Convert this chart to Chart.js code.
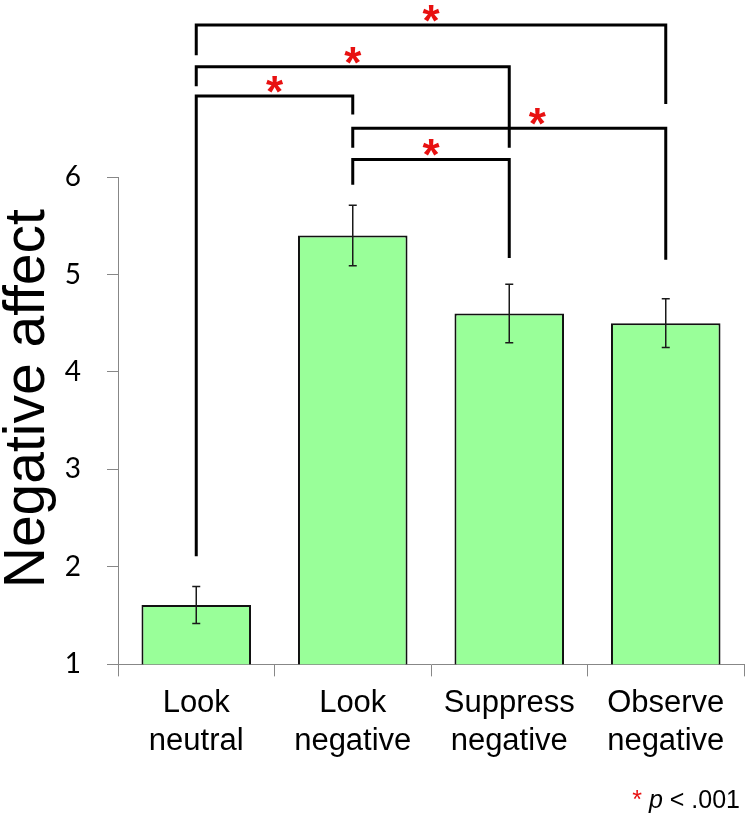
<!DOCTYPE html>
<html lang="en">

<head>
  <meta charset="UTF-8" />
  <title>Negative affect</title>
  <script src="https://cdn.jsdelivr.net/npm/chart.js"></script>
  <style>
    body {
      margin: 0;
      background: #fff;
    }

    .wrap {
      position: relative;
      width: 747px;
      height: 827px;
    }

    .note {
      position: absolute;
      right: 7px;
      top: 785px;
      font-family: 'Liberation Sans', Arial, sans-serif;
      font-size: 25px;
      color: #000;
    }

    .note .star {
      color: #e81111;
    }
  </style>
</head>

<body>
  <div class="wrap">
    <canvas id="chart" width="747" height="827"></canvas>
    <div class="note"><span class="star">*</span> <i>p</i> &lt; .001</div>
  </div>

  <script>
    // bars
    const conditions = [['Look', 'neutral'], ['Look', 'negative'], ['Suppress', 'negative'], ['Observe', 'negative']];
    const means = [1.61, 5.40, 4.60, 4.50];
    const errors = [0.19, 0.31, 0.30, 0.25];
    const yMin = 1;
    const yMax = 6;

    // significance brackets (category index from/to, values on the y scale)
    const bracketFrom = [0, 0, 0, 1, 1];
    const bracketTo = [3, 2, 1, 3, 2];
    const bracketLevel = [7.56, 7.13, 6.83, 6.50, 6.18];
    const bracketLeftEnd = [7.25, 6.93, 2.11, 6.30, 5.92];
    const bracketRightEnd = [6.75, 6.30, 6.64, 5.15, 5.17];
    const starAt = [1.5, 1.0, 0.5, 2.18, 1.5];

    const axisGray = '#878787';

    const errorBars = {
      id: 'errorBars',
      afterDatasetsDraw(chart) {
        const ctx = chart.ctx;
        const y = chart.scales.y;
        const meta = chart.getDatasetMeta(0);
        ctx.save();
        ctx.strokeStyle = '#1a1a1a';
        ctx.lineWidth = 1.5;
        meta.data.forEach((bar, i) => {
          const top = y.getPixelForValue(means[i] + errors[i]);
          const bot = y.getPixelForValue(means[i] - errors[i]);
          ctx.beginPath();
          ctx.moveTo(bar.x, top);
          ctx.lineTo(bar.x, bot);
          ctx.moveTo(bar.x - 4, top);
          ctx.lineTo(bar.x + 4, top);
          ctx.moveTo(bar.x - 4, bot);
          ctx.lineTo(bar.x + 4, bot);
          ctx.stroke();
        });
        ctx.restore();
      }
    };

    const brackets = {
      id: 'brackets',
      afterDraw(chart) {
        const ctx = chart.ctx;
        const x = chart.scales.x;
        const y = chart.scales.y;
        const p0 = x.getPixelForValue(0);
        const step = x.getPixelForValue(1) - p0;
        ctx.save();
        ctx.lineWidth = 3;
        ctx.strokeStyle = '#000';
        ctx.lineJoin = 'miter';
        ctx.font = 'bold 44px "Liberation Sans", Arial, sans-serif';
        ctx.textAlign = 'center';
        ctx.textBaseline = 'alphabetic';
        bracketFrom.forEach((from, i) => {
          const x1 = x.getPixelForValue(from);
          const x2 = x.getPixelForValue(bracketTo[i]);
          const yl = y.getPixelForValue(bracketLevel[i]);
          ctx.beginPath();
          ctx.moveTo(x1, y.getPixelForValue(bracketLeftEnd[i]));
          ctx.lineTo(x1, yl);
          ctx.lineTo(x2, yl);
          ctx.lineTo(x2, y.getPixelForValue(bracketRightEnd[i]));
          ctx.stroke();

          const m = ctx.measureText('*');
          const sx = p0 + starAt[i] * step;
          ctx.fillStyle = '#e81111';
          ctx.fillText('*', sx, yl - 3 - m.actualBoundingBoxDescent);
        });
        ctx.restore();
      }
    };

    const yTitle = {
      id: 'yTitle',
      afterDraw(chart) {
        const ctx = chart.ctx;
        const area = chart.chartArea;
        ctx.save();
        ctx.translate(28, (area.top + area.bottom) / 2 - 22);
        ctx.rotate(-Math.PI / 2);
        ctx.font = '57px "Liberation Sans", Arial, sans-serif';
        ctx.fillStyle = '#000';
        ctx.textAlign = 'center';
        ctx.textBaseline = 'middle';
        ctx.fillText('Negative affect', 0, 0);
        ctx.restore();
      }
    };

    new Chart(document.getElementById('chart'), {
      type: 'bar',
      data: {
        labels: conditions,
        datasets: [{
          data: means,
          backgroundColor: '#99ff99',
          borderColor: '#111',
          borderWidth: 2,
          categoryPercentage: 1,
          barPercentage: 0.7
        }]
      },
      options: {
        responsive: false,
        animation: false,
        layout: { padding: { top: 177, right: 3, bottom: 59, left: 0 } },
        plugins: {
          legend: { display: false },
          tooltip: { enabled: false }
        },
        scales: {
          x: {
            grid: { offset: true, drawOnChartArea: false, tickLength: 12, color: axisGray },
            border: { color: axisGray, width: 1 },
            ticks: {
              color: '#000',
              font: { family: '"Liberation Sans", Arial, sans-serif', size: 31, lineHeight: 1.22 },
              padding: 8,
              maxRotation: 0,
              autoSkip: false
            }
          },
          y: {
            min: yMin,
            max: yMax,
            grid: { drawOnChartArea: false, tickLength: 11, color: axisGray },
            border: { color: axisGray, width: 1 },
            ticks: {
              stepSize: 1,
              color: '#000',
              font: { family: 'Lato, "Noto Sans", sans-serif', size: 28 },
              padding: 26
            },
            afterFit(scale) { scale.width = 118; }
          }
        }
      },
      plugins: [errorBars, brackets, yTitle]
    });
  </script>
</body>

</html>
